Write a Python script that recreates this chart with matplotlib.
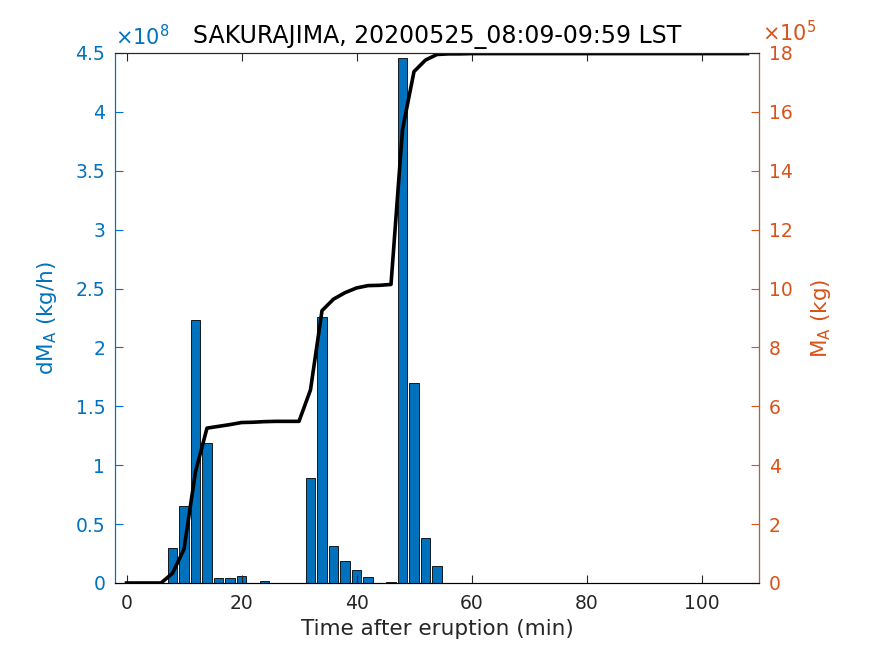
import matplotlib
matplotlib.use("Agg")
import matplotlib.pyplot as plt

plt.rcParams['font.family'] = ['DejaVu Sans']

# bar data: emission rate, units of 1e8 kg/h
t_bar = [8, 10, 12, 14, 16, 18, 20, 22, 24, 26, 28, 30, 32, 34, 36, 38, 40,
         42, 44, 46, 48, 50, 52, 54, 56, 58, 60]
rate = [0.30, 0.655, 2.23, 1.186, 0.045, 0.042, 0.062, 0, 0.02, 0, 0, 0,
        0.888, 2.258, 0.31, 0.19, 0.113, 0.054, 0, 0.006, 4.46, 1.695,
        0.385, 0.147, 0.004, 0, 0.003]

# cumulative mass, units of 1e5 kg
t_cum = list(range(0, 110, 2))
cum = [0, 0, 0, 0, 0.33, 1.15, 3.78, 5.26, 5.32, 5.38, 5.45, 5.46, 5.48,
       5.49, 5.49, 5.49, 6.56, 9.25, 9.64, 9.86, 10.02, 10.10, 10.11, 10.14,
       15.4, 17.37, 17.76, 17.95, 17.97, 17.97, 17.98]
cum = cum + [17.98] * (len(t_cum) - len(cum))

blue = '#0072BD'
orange = '#D95319'
dark = '#262626'

fig = plt.figure(figsize=(8.75, 6.56), dpi=100)
ax = fig.add_axes([115/875, 1 - 583/656, 644/875, 530/656])

ax.bar(t_bar, rate, width=1.6, color=blue, edgecolor='black', linewidth=0.6)
ax.set_xlim(-2, 110)
ax.set_ylim(0, 4.5)
ax.set_xticks([0, 20, 40, 60, 80, 100])
ax.set_yticks([0, 0.5, 1, 1.5, 2, 2.5, 3, 3.5, 4, 4.5])
ax.set_yticklabels(['0', '0.5', '1', '1.5', '2', '2.5', '3', '3.5', '4', '4.5'])
ax.tick_params(axis='x', direction='in', top=True, length=6, labelsize=13.5,
               colors=dark, pad=8)
ax.tick_params(axis='y', direction='in', length=6, labelsize=13.5, colors=blue,
               pad=7)
ax.spines['left'].set_color(blue)
ax.spines['top'].set_color(dark)
ax.spines['bottom'].set_color(dark)
ax.set_xlabel('Time after eruption (min)', fontsize=15.5, color=dark,
              labelpad=4)
ax.set_ylabel('dM$_{\\mathregular{A}}$ (kg/h)', fontsize=15.5, color=blue,
              labelpad=12)
ax.text(0, 1.008, '×10$^{\\mathregular{8}}$', transform=ax.transAxes,
        color=blue, fontsize=15, va='bottom', ha='left')

ax2 = ax.twinx()
ax2.plot(t_cum, cum, color='black', linewidth=2.6)
ax2.set_ylim(0, 18)
ax2.set_yticks(range(0, 19, 2))
ax2.tick_params(axis='y', direction='in', length=6, labelsize=13.5,
                colors=orange, pad=7)
ax2.spines['right'].set_color(orange)
ax2.spines['left'].set_color(blue)
ax2.spines['top'].set_color(dark)
ax2.set_ylabel('M$_{\\mathregular{A}}$ (kg)', fontsize=15.5, color=orange,
               labelpad=12)
ax2.text(1.004, 1.014, '×10$^{\\mathregular{5}}$', transform=ax2.transAxes,
         color=orange, fontsize=15, va='bottom', ha='left')

ax.set_title('SAKURAJIMA, 20200525_08:09-09:59 LST', fontsize=17,
             color='black', pad=7)

fig.savefig('out.png', dpi=100)
